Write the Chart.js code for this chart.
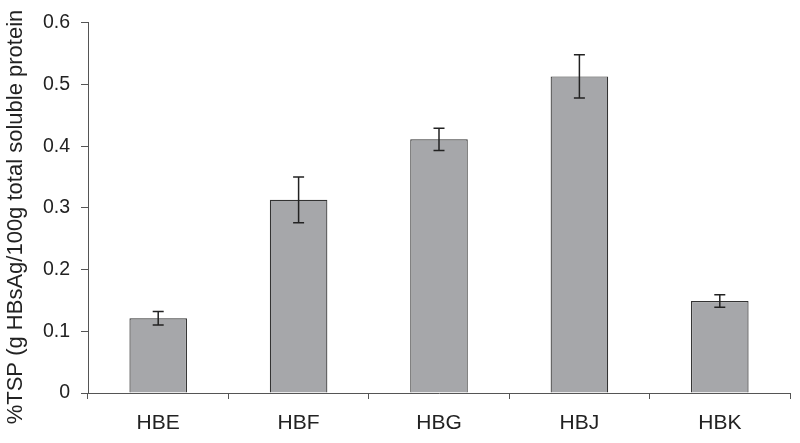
<!DOCTYPE html>
<html>
<head>
<meta charset="utf-8">
<script src="https://cdn.jsdelivr.net/npm/chart.js@4/dist/chart.umd.min.js"></script>
<style>
  html, body { margin: 0; padding: 0; background: #fff; }
  #wrap { width: 800px; height: 443px; }
</style>
</head>
<body>
<div id="wrap"><canvas id="graph_tsp"></canvas></div>
<script>
const categories = ["HBE", "HBF", "HBG", "HBJ", "HBK"];
const tspValues = [0.121, 0.313, 0.411, 0.513, 0.149];
const tspErrors = [0.011, 0.037, 0.018, 0.035, 0.01];
const yTicks = [0, 0.1, 0.2, 0.3, 0.4, 0.5, 0.6];

const axisColor = '#555';
const fontFamily = "'Liberation Sans', Arial, sans-serif";

// draws the +/- error whiskers on top of each bar
const errorBars = {
  id: 'errorBars',
  afterDatasetsDraw(chart) {
    const ctx = chart.ctx;
    const meta = chart.getDatasetMeta(0);
    const y = chart.scales.y;
    ctx.save();
    ctx.strokeStyle = '#222';
    ctx.lineWidth = 1.5;
    meta.data.forEach((bar, i) => {
      const x = bar.x;
      const top = y.getPixelForValue(tspValues[i] + tspErrors[i]);
      const bottom = y.getPixelForValue(tspValues[i] - tspErrors[i]);
      ctx.beginPath();
      ctx.moveTo(x, top); ctx.lineTo(x, bottom);
      ctx.moveTo(x - 5.5, top); ctx.lineTo(x + 5.5, top);
      ctx.moveTo(x - 5.5, bottom); ctx.lineTo(x + 5.5, bottom);
      ctx.stroke();
    });
    ctx.restore();
  }
};

const ctx_tsp = document.getElementById('graph_tsp').getContext('2d');

const tspChart = new Chart(ctx_tsp, {
  type: 'bar',
  data: {
    labels: categories,
    datasets: [{
      data: tspValues,
      backgroundColor: '#a6a7aa',
      borderColor: '#333',
      borderWidth: 1.2,
      barPercentage: 0.41,
      categoryPercentage: 1.0
    }]
  },
  options: {
    responsive: true,
    maintainAspectRatio: false,
    animation: false,
    layout: { padding: { top: 20, right: 10, left: 0, bottom: 0 } },
    plugins: {
      legend: { display: false },
      tooltip: { enabled: false }
    },
    scales: {
      x: {
        grid: {
          display: true,
          drawOnChartArea: false,
          drawTicks: true,
          tickLength: 6,
          color: axisColor,
          offset: true
        },
        border: { color: axisColor, width: 1 },
        ticks: {
          color: '#222',
          padding: 12,
          font: { family: fontFamily, size: 21 }
        },
        afterFit(scale) { scale.height = 50; }
      },
      y: {
        min: 0,
        max: 0.6,
        afterBuildTicks(scale) { scale.ticks = yTicks.map(v => ({ value: v })); },
        grid: {
          display: true,
          drawOnChartArea: false,
          drawTicks: true,
          tickLength: 7,
          color: axisColor
        },
        border: { color: axisColor, width: 1 },
        ticks: {
          color: '#222',
          padding: 11,
          font: { family: fontFamily, size: 19.5 },
          callback: v => v === 0 ? '0' : v.toFixed(1)
        },
        title: {
          display: true,
          // trailing spaces nudge the centred title down a little, as in the original
          text: '%TSP (g HBsAg/100g total soluble protein   ',
          color: '#222',
          padding: { top: 3, bottom: 0 },
          font: { family: fontFamily, size: 22 }
        },
        afterFit(scale) { scale.width = 88; }
      }
    }
  },
  plugins: [errorBars]
});
</script>
</body>
</html>
